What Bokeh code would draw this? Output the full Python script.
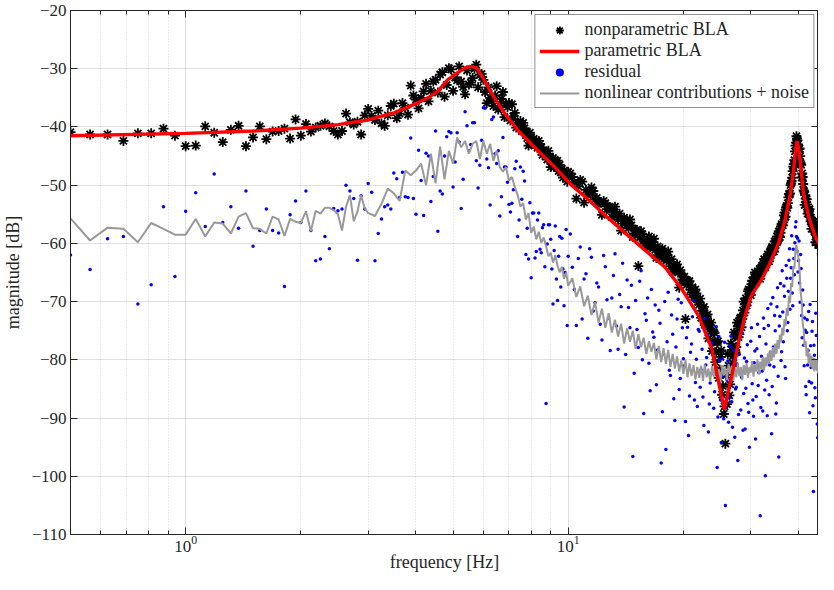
from bokeh.plotting import figure
from bokeh.models import (FixedTicker, LogAxis, LinearAxis, Legend, LegendItem,
                          CustomJSTickFormatter)
from bokeh.embed import file_html
from bokeh.resources import INLINE

# ---------------- data ----------------
# frequency lines [Hz] (main set, shared by all three measured series)
F_A = [0.5, 0.5625, 0.625, 0.6875, 0.75, 0.8125, 0.875, 0.9375, 1.0, 1.0625,
       1.125, 1.1875, 1.25, 1.3125, 1.375, 1.4375, 1.5, 1.5625, 1.625, 1.6875,
       1.75, 1.8125, 1.875, 1.9375, 2.0, 2.0625, 2.125, 2.1875, 2.25, 2.3125,
       2.375, 2.4375, 2.5, 2.5625, 2.625, 2.6875, 2.75, 2.8125, 2.875, 2.9375,
       3.0]
F_B = [3.125, 3.25, 3.375, 3.5, 3.625, 3.75, 3.875, 4.0, 4.125, 4.25,
       4.375, 4.5, 4.625, 4.75, 4.875, 5.0, 5.125, 5.25, 5.375, 5.5,
       5.625, 5.75, 5.875, 6.0, 6.125, 6.25, 6.375, 6.5, 6.625, 6.75,
       6.875, 7.0, 7.125, 7.25, 7.375, 7.5, 7.625, 7.75, 7.875, 8.0,
       8.125, 8.25, 8.375, 8.5, 8.625, 8.75, 8.875, 9.0, 9.125, 9.25,
       9.375, 9.5, 9.625, 9.75, 9.875, 10.0]
F_C = [10.25, 10.5, 10.75,
       11.0, 11.25, 11.5, 11.75, 12.0, 12.25, 12.5, 12.75,
       13.0, 13.25, 13.5, 13.75, 14.0, 14.25, 14.5, 14.75,
       15.0, 15.25, 15.5, 15.75, 16.0, 16.25, 16.5, 16.75,
       17.0, 17.25, 17.5, 17.75, 18.0, 18.25, 18.5, 18.75,
       19.0, 19.25, 19.5, 19.75, 20.0, 20.25, 20.5, 20.75,
       21.0, 21.25, 21.5, 21.75, 22.0, 22.25, 22.5, 22.75,
       23.0, 23.25, 23.5, 23.75, 24.0, 24.25, 24.5, 24.75,
       25.0, 25.25, 25.5, 25.75, 26.0, 26.25, 26.5, 26.75,
       27.0, 27.25, 27.5, 27.75, 28.0, 28.25, 28.5, 28.75,
       29.0, 29.25, 29.5, 29.75, 30.0, 30.25, 30.5, 30.75,
       31.0, 31.25, 31.5, 31.75, 32.0, 32.25, 32.5, 32.75,
       33.0, 33.25, 33.5, 33.75, 34.0, 34.25, 34.5, 34.75,
       35.0, 35.25, 35.5, 35.75, 36.0, 36.25, 36.5, 36.75,
       37.0, 37.25, 37.5, 37.75, 38.0, 38.25, 38.5, 38.75,
       39.0, 39.25, 39.5, 39.75, 40.0, 40.25, 40.5, 40.75,
       41.0, 41.25, 41.5, 41.75, 42.0, 42.25, 42.5, 42.75,
       43.0, 43.25, 43.5, 43.75, 44.0, 44.25, 44.5, 44.75,
       45.0, 45.25, 45.5, 45.75, 46.0, 46.25, 46.5, 46.75]
# in-between frequency lines (extra BLA stars and residual dots)
F_D = [3.0625, 3.1875, 3.3125, 3.4375, 3.5625, 3.6875, 3.8125, 3.9375,
       4.0625, 4.1875, 4.3125, 4.4375, 4.5625, 4.6875, 4.8125, 4.9375,
       5.0625, 5.1875, 5.3125, 5.4375, 5.5625, 5.6875, 5.8125, 5.9375,
       6.0625, 6.1875, 6.3125, 6.4375, 6.5625, 6.6875, 6.8125, 6.9375,
       7.0625, 7.1875, 7.3125, 7.4375, 7.5625, 7.6875, 7.8125, 7.9375,
       8.0625, 8.1875, 8.3125, 8.4375, 8.5625, 8.6875, 8.8125, 8.9375,
       9.0625, 9.1875, 9.3125, 9.4375, 9.5625, 9.6875, 9.8125, 9.9375,
       10.125, 10.375, 10.625, 10.875, 11.125, 11.375, 11.625, 11.875,
       12.125, 12.375, 12.625, 12.875, 13.125, 13.375, 13.625, 13.875,
       14.125, 14.375, 14.625, 14.875, 15.125, 15.375, 15.625, 15.875,
       16.125, 16.375, 16.625, 16.875, 17.125, 17.375, 17.625, 17.875,
       18.125, 18.375, 18.625, 18.875, 19.125, 19.375, 19.625, 19.875,
       20.125, 20.375, 20.625, 20.875, 21.125, 21.375, 21.625, 21.875,
       22.125, 22.375, 22.625, 22.875, 23.125, 23.375, 23.625, 23.875,
       24.125, 24.375, 24.625, 24.875, 25.125, 25.375, 25.625, 25.875,
       26.125, 26.375, 26.625, 26.875, 27.125, 27.375, 27.625, 27.875,
       28.125, 28.375, 28.625, 28.875, 29.125, 29.375, 29.625, 29.875,
       30.125, 30.375, 30.625, 30.875, 31.125, 31.375, 31.625, 31.875,
       32.125, 32.375, 32.625, 32.875, 33.125, 33.375, 33.625, 33.875,
       34.125, 34.375, 34.625, 34.875, 35.125, 35.375, 35.625, 35.875,
       36.125, 36.375, 36.625, 36.875, 37.125, 37.375, 37.625, 37.875,
       38.125, 38.375, 38.625, 38.875, 39.125, 39.375, 39.625, 39.875,
       40.125, 40.375, 40.625, 40.875, 41.125, 41.375, 41.625, 41.875,
       42.125, 42.375, 42.625, 42.875, 43.125, 43.375, 43.625, 43.875,
       44.125, 44.375, 44.625, 44.875, 45.125, 45.375, 45.625, 45.875,
       46.125, 46.375, 46.625]

# nonparametric BLA [dB]
BLA_A = [-40.9, -41.3, -41.3, -42.4, -41.1, -41.1, -40.3, -41.5, -43.3, -43.2,
         -39.9, -41.0, -42.6, -40.5, -39.8, -43.3, -41.8, -39.9, -42.1, -40.8,
         -40.7, -40.3, -42.0, -38.7, -41.5, -39.5, -40.8, -40.1, -39.8, -39.4,
         -39.9, -40.7, -41.3, -40.7, -37.7, -39.2, -39.6, -39.1, -41.3, -38.0,
         -36.9]
BLA_B = [-38.8, -39.4, -38.0, -36.0, -37.7, -36.7, -32.9, -35.3, -35.0, -32.6,
         -33.8, -31.9, -31.0, -34.8, -29.9, -33.8, -32.0, -32.2, -34.4, -32.7,
         -31.6, -29.3, -31.0, -31.9, -35.9, -35.0, -36.4, -33.0, -36.4, -34.0,
         -36.0, -35.9, -36.1, -37.6, -39.3, -39.0, -39.3, -41.0, -43.2, -41.8,
         -42.0, -42.4, -42.4, -43.5, -44.0, -44.6, -44.1, -46.9, -45.3, -45.8,
         -45.8, -46.5, -47.2, -47.5, -48.6, -47.7]
BLA_C = [-48.6, -52.3, -49.1, -53.0, -51.6, -50.4, -52.4, -53.2, -55.1, -53.1,
         -53.9, -55.5, -53.7, -55.9, -57.8, -55.6, -56.8, -55.9, -58.9, -57.8,
         -63.9, -57.9, -59.6, -60.6, -58.8, -60.5, -59.2, -62.5, -61.4, -61.2,
         -62.8, -61.6, -61.4, -63.9, -64.9, -64.3, -63.6, -67.6, -65.2, -66.4,
         -73.0, -66.4, -66.5, -68.8, -68.7, -67.9, -69.6,
         -70.5, -72.8, -71.2, -74.0, -72.5, -76.3, -74.1, -78.5, -75.2, -80.4,
         -77.0, -83.1, -79.5, -86.0, -89.3, -94.4, -87.6, -81.0, -84.2, -78.3,
         -80.6, -76.0, -77.8, -74.2, -75.6,
         -72.7, -73.0, -70.0, -70.4, -70.7, -68.2, -68.3, -68.9, -66.4, -66.5,
         -65.0, -66.7, -64.9, -65.4, -66.1, -64.1, -64.5, -62.7, -64.1, -62.8,
         -61.9, -63.1, -61.7, -60.8, -61.2, -61.4, -59.6, -59.7, -59.6, -58.0,
         -58.9, -57.1, -56.8, -56.4, -54.7, -55.4, -53.6, -53.1, -51.5, -51.4,
         -49.7, -48.7, -46.8, -45.7, -43.2,
         -41.6, -42.3, -44.3, -43.7, -46.2, -48.7, -48.6, -50.9, -53.4, -52.3,
         -52.4, -54.9, -54.6, -54.1, -56.2, -57.5, -56.3, -56.3, -58.0, -59.8,
         -57.9, -58.9, -60.3, -59.0, -58.7, -60.8, -61.9, -60.5, -61.3, -60.7]
BLA_D = [-38.1, -37.2, -39.8, -36.4, -38.5, -35.9, -37.9, -34.6,
         -36.8, -33.9, -35.6, -32.2, -34.1, -30.6, -32.8, -30.1,
         -31.5, -29.6, -33.1, -30.3, -32.4, -30.0, -33.2, -30.9,
         -34.0, -33.2, -35.5, -34.6, -37.0, -35.2, -38.3, -36.6,
         -38.9, -38.2, -40.1, -39.6, -40.7, -40.2, -41.9, -41.0,
         -42.9, -43.1, -43.6, -42.9, -44.8, -44.3, -45.6, -45.1,
         -46.2, -46.9, -46.4, -47.6, -47.8, -48.7, -48.3, -49.4,
         -48.0, -49.5, -50.2, -49.4, -50.8, -51.3, -51.0, -52.2,
         -53.0, -52.7, -54.1, -53.8, -54.7, -55.2, -54.9, -56.6,
         -56.1, -57.4, -56.9, -58.3, -57.7, -59.0, -58.4, -59.9,
         -59.3, -60.6, -59.8, -61.1, -60.5, -61.9, -60.9, -62.6,
         -62.0, -63.1, -62.7, -64.4, -63.9, -65.0, -64.6, -66.2,
         -65.7, -67.1, -66.6, -68.0, -67.5, -69.2, -68.6, -70.1,
         -69.5, -71.6, -70.9, -73.3, -72.2, -74.8, -73.6, -76.9,
         -75.4, -78.6, -76.8, -81.7, -78.4, -84.5, -88.0, -82.6,
         -79.0, -86.1, -77.2, -79.4, -75.3, -78.7, -73.6, -76.1,
         -72.9, -74.4, -71.5, -71.9, -69.4, -70.1, -67.9, -68.6,
         -67.0, -67.4, -65.8, -66.3, -65.2, -65.9, -64.4, -65.1,
         -63.8, -64.3, -63.0, -63.6, -62.3, -62.8, -61.5, -62.0,
         -60.6, -61.1, -59.7, -60.3, -58.8, -59.4, -57.9, -58.2,
         -56.7, -56.9, -55.2, -55.5, -53.8, -53.9, -52.1, -51.6,
         -50.0, -49.3, -47.6, -46.4, -44.2, -42.7, -42.0, -43.0,
         -43.8, -45.0, -46.5, -48.0, -49.8, -51.1, -51.7, -52.9,
         -53.3, -54.2, -54.4, -55.5, -55.6, -56.4, -56.6, -57.4,
         -57.7, -58.2, -58.5, -59.1, -59.2, -59.6, -59.9, -60.4,
         -60.5, -61.0, -61.1]

# residual [dB]
RES_A = [-62.0, -64.5, -59.2, -58.8, -70.4, -67.1, -53.7, -65.7, -54.5, -51.3,
         -57.1, -48.1, -56.4, -53.7, -57.4, -51.0, -60.5, -57.8, -54.1, -57.8,
         -58.2, -67.4, -55.1, -52.7, -56.4, -51.0, -57.8, -63.0, -62.7, -58.8,
         -60.9, -54.0, -54.4, -54.1, -50.0, -51.0, -52.3, -62.9, -51.8, -54.1,
         -49.7]
RES_B = [-63.0, -55.8, -53.4, -47.9, -52.1, -52.0, -41.9, -55.0, -49.2, -44.5,
         -52.8, -40.7, -51.0, -45.0, -40.8, -50.3, -41.0, -54.0, -37.4, -44.1,
         -39.3, -45.8, -46.6, -36.7, -45.5, -53.4, -38.3, -46.3, -55.3, -41.8,
         -46.9, -53.3, -53.1, -47.2, -58.8, -46.9, -47.6, -61.9, -62.7, -65.9,
         -54.8, -61.4, -54.8, -61.6, -56.8, -87.5, -56.8, -59.3, -70.4, -57.0,
         -69.8, -58.8, -59.1, -70.7, -57.6, -62.2]
RES_C = [-64.1, -74.1, -60.6,
         -66.1, -76.3, -62.4, -70.2, -67.5, -76.6, -64.0, -72.8,
         -69.4, -61.8, -78.2, -70.9, -88.1, -66.3, -74.5, -96.6,
         -69.8, -77.9, -64.7, -89.2, -73.2, -80.6, -67.9, -76.1,
         -84.3, -71.5, -97.7, -79.0, -95.4, -68.4, -82.7, -75.6,
         -90.4, -73.0, -85.1, -70.2, -79.8, -90.6, -74.4, -86.2,
         -77.3, -69.8, -83.9, -88.0, -75.1, -81.7, -86.4, -72.9,
         -79.6, -92.4, -84.0, -77.2, -88.3, -81.5, -98.5, -76.0,
         -86.9, -79.8, -90.1, -105.0, -83.4, -90.7, -77.6, -87.2,
         -81.0, -93.3, -84.7, -97.3, -79.1, -88.6, -75.4, -85.8,
         -91.9, -80.3, -87.5, -95.0, -76.8, -84.1, -89.7, -78.5,
         -86.3, -73.9, -82.2, -106.8, -79.4, -88.8, -74.6, -99.9,
         -83.5, -71.2, -86.0, -78.7, -92.7, -69.3, -81.2, -75.0,
         -87.4, -67.6, -96.7, -72.5, -80.1, -64.7, -76.9, -69.1,
         -83.2, -66.0, -73.6, -62.9, -71.3, -64.2, -68.5, -61.0,
         -65.4, -57.2, -58.8, -59.1, -63.0, -66.8, -61.9, -72.4,
         -68.0, -77.5, -72.8, -84.6, -75.3, -80.9, -71.7, -89.1,
         -77.6, -84.0, -73.4, -102.6, -79.2, -86.5, -75.8, -91.0,
         -81.7, -73.9, -87.3, -78.6, -83.8, -95.7, -76.2, -106.7]
RES_D = [-51.2, -58.3, -53.7, -54.1, -48.9, -47.8, -52.1, -52.3,
         -44.0, -55.2, -45.0, -48.5, -57.9, -51.5, -41.7, -41.0,
         -46.0, -42.6, -49.0, -39.8, -43.0, -39.3, -50.5, -42.3,
         -36.8, -47.0, -38.7, -44.6, -44.1, -52.0, -46.9, -49.5,
         -54.6, -50.8, -45.9, -56.0, -52.4, -49.3, -57.4, -53.0,
         -54.8, -62.5, -56.0, -61.0, -57.3, -64.0, -60.1, -56.8,
         -64.4, -61.2, -66.1, -62.2, -67.5, -64.4, -65.0, -74.1,
         -58.4, -67.9, -62.6, -73.0, -65.2, -60.9, -71.6, -66.8,
         -73.9, -62.1, -69.7, -78.4, -65.5, -74.2, -68.8, -63.4,
         -79.1, -71.0, -67.2, -82.3, -74.8, -66.5, -80.0, -72.1,
         -69.4, -85.3, -75.2, -70.6, -78.3, -73.7, -88.9, -70.0,
         -76.9, -81.8, -72.3, -86.7, -77.8, -69.6, -83.2, -74.5,
         -81.0, -76.2, -93.0, -78.7, -72.6, -86.9, -79.9, -74.8,
         -84.7, -78.2, -91.3, -80.9, -75.7, -87.6, -82.4, -78.9,
         -85.5, -74.3, -89.8, -80.2, -94.2, -82.8, -77.0, -88.2,
         -80.2, -86.5, -75.9, -91.6, -78.3, -85.0, -80.8, -89.4,
         -76.1, -83.0, -92.1, -79.7, -84.9, -77.4, -89.0, -81.6,
         -74.5, -86.9, -80.5, -93.6, -78.1, -84.4, -76.0, -88.2,
         -81.9, -72.8, -85.2, -77.3, -89.6, -74.1, -80.9, -70.4,
         -84.6, -77.8, -72.4, -89.3, -70.9, -82.8, -74.2, -66.9,
         -78.6, -71.8, -67.3, -81.2, -63.8, -75.0, -68.2, -60.9,
         -66.0, -58.7, -70.7, -62.6, -59.9, -56.3, -61.3, -64.9,
         -59.6, -70.1, -64.3, -76.2, -70.6, -81.0, -74.9, -86.0,
         -73.1, -78.4, -83.7, -70.5, -81.3, -75.1, -87.9, -77.5,
         -84.8, -72.0, -80.7, -93.4, -76.5, -85.6, -79.9, -71.7,
         -88.3, -77.9, -84.9]

# nonlinear contributions + noise [dB]
NL_A = [-55.7, -59.5, -57.3, -57.5, -59.8, -56.5, -57.5, -58.5, -58.5, -55.8,
        -58.8, -56.4, -56.6, -58.3, -55.4, -54.8, -57.4, -57.5, -58.3, -55.4,
        -55.9, -58.7, -55.8, -56.3, -56.5, -54.5, -57.9, -54.4, -54.9, -53.9,
        -53.9, -54.3, -55.0, -57.8, -53.7, -51.7, -56.2, -54.5, -51.7, -54.0,
        -54.8]
NL_B = [-55.3, -53.2, -50.6, -51.4, -52.7, -47.5, -48.3, -47.5, -46.3, -50.0,
        -44.6, -49.7, -43.4, -49.0, -44.1, -46.3, -41.8, -43.5, -42.4, -44.6,
        -42.9, -42.4, -45.5, -42.4, -44.6, -42.9, -45.8, -44.1, -46.9, -47.7,
        -46.9, -49.2, -48.6, -50.3, -51.7, -53.7, -53.1, -55.9, -54.8, -58.2,
        -57.1, -59.3, -58.0, -59.9, -59.0, -60.5, -62.2, -61.6, -63.3, -62.0,
        -63.8, -65.0, -64.0, -66.1, -65.0, -67.3]
NL_C = [-66.0, -69.2, -67.4,
        -70.8, -69.0, -72.3, -70.1, -73.6, -71.2, -74.5, -72.0,
        -75.3, -73.1, -76.0, -73.8, -77.2, -74.6, -76.9, -75.0,
        -78.1, -75.6, -77.8, -76.2, -79.0, -76.8, -78.6, -77.1,
        -79.9, -77.6, -80.4, -78.0, -80.7, -78.3, -81.2, -79.0,
        -81.5, -79.4, -82.0, -80.1, -82.4, -80.0, -83.0, -80.6,
        -82.8, -80.9, -83.4, -81.2, -83.1, -81.0, -83.6, -80.8,
        -83.0, -81.5, -83.8, -81.1, -82.9, -80.4, -83.3, -81.6,
        -84.0, -80.9, -82.7, -81.3, -83.5, -80.7, -82.4, -81.0,
        -83.7, -81.4, -83.0, -80.6, -82.8, -81.2, -83.5, -80.9,
        -82.6, -80.5, -83.1, -81.3, -82.2, -80.2, -82.9, -80.8,
        -82.0, -79.9, -82.4, -80.3, -81.6, -79.5, -81.8, -79.6,
        -81.1, -78.9, -80.7, -78.4, -80.2, -77.8, -79.6, -77.2,
        -79.0, -76.6, -78.1, -75.7, -77.0, -74.5, -75.8, -73.0,
        -74.2, -71.1, -72.4, -69.0, -70.2, -66.8, -67.5, -63.9,
        -64.4, -61.2, -60.3, -61.8, -62.5, -64.6, -68.3, -70.0,
        -73.6, -74.9, -77.8, -76.8, -79.4, -78.0, -80.6, -78.9,
        -81.2, -79.3, -81.6, -79.6, -82.0, -79.8, -81.7, -80.1,
        -82.3, -80.0, -82.5, -80.4, -81.9, -80.2, -82.6, -80.5]

# parametric BLA (smooth model curve) [Hz], [dB]
F_PAR = [0.5, 1.0, 1.5, 2.0, 2.5, 3.0, 3.5, 4.0, 4.3, 4.56,
         4.84, 5.16, 5.36, 5.53, 5.75, 5.94, 6.1, 6.29, 6.5, 6.84,
         7.41, 8.33, 9.22, 10.2, 11.3, 12.5, 14.6, 17.9, 19.8, 21.9,
         23.7, 24.9, 25.3, 25.6, 26.0, 26.8, 27.9, 29.0, 30.1, 32.1,
         33.4, 35.5, 36.9, 38.1, 38.8, 39.2, 39.6, 40.0, 40.4, 41.2,
         42.5, 44.2, 47.0]
DB_PAR = [-41.5, -41.1, -40.7, -40.2, -39.6, -38.8, -37.6, -36.0, -35.0, -33.9,
          -31.9, -30.6, -29.9, -29.6, -29.8, -31.2, -32.5, -34.1, -35.6, -37.8,
          -40.7, -44.1, -46.9, -50.0, -52.5, -55.2, -59.1, -64.1, -67.8, -72.4,
          -78.0, -84.8, -87.0, -88.5, -86.5, -82.5, -76.9, -72.4, -69.0, -66.1,
          -63.9, -59.9, -55.9, -51.4, -47.5, -44.5, -42.4, -43.5, -45.8, -51.4,
          -55.4, -58.8, -62.2]

X_MAJOR = [1, 10]
X_MINOR = [0.5, 0.6, 0.7, 0.8, 0.9, 2, 3, 4, 5, 6, 7, 8, 9, 20, 30, 40]
Y_TICKS = [-110, -100, -90, -80, -70, -60, -50, -40, -30, -20]

F = F_A + F_B + F_C
BLA = BLA_A + BLA_B + BLA_C
RES = RES_A + RES_B + RES_C
NL = NL_A + NL_B + NL_C
assert len(F) == len(BLA) == len(RES) == len(NL)
assert len(F_D) == len(BLA_D) == len(RES_D)
assert len(F_PAR) == len(DB_PAR)
F_ALL = F + F_D
BLA_ALL = BLA + BLA_D
RES_ALL = RES + RES_D

# ---------------- figure ----------------
FONT = "Liberation Serif"
AX = "#262626"

p = figure(width=818, height=574, x_axis_type="log",
           x_range=(0.5, 45.1), y_range=(-110, -20),
           output_backend="svg", toolbar_location=None,
           min_border_left=64, min_border_right=0,
           min_border_top=10, min_border_bottom=40)
p.outline_line_color = AX
p.outline_line_width = 1

xt = FixedTicker(ticks=X_MAJOR, minor_ticks=X_MINOR)
yt = FixedTicker(ticks=Y_TICKS, minor_ticks=[])


def style(ax):
    ax.axis_line_color = AX
    ax.major_tick_line_color = AX
    ax.minor_tick_line_color = AX
    ax.major_tick_in = 7
    ax.major_tick_out = 0
    ax.minor_tick_in = 4
    ax.minor_tick_out = 0
    ax.major_label_text_font = FONT
    ax.major_label_text_font_size = "17px"
    ax.major_label_text_color = AX
    ax.axis_label_text_font = FONT
    ax.axis_label_text_font_size = "18px"
    ax.axis_label_text_font_style = "normal"
    ax.axis_label_text_color = AX


xa = p.xaxis[0]
xa.ticker = xt
style(xa)
xa.major_label_standoff = 1
xa.axis_label = "frequency [Hz]"
xa.axis_label_standoff = -3
xa.axis_label_text_line_height = 1.0

ya = p.yaxis[0]
ya.ticker = yt
style(ya)
ya.minor_tick_line_color = None
ya.major_label_standoff = 4
ya.axis_label = "magnitude [dB]"
ya.axis_label_standoff = 5

blank = CustomJSTickFormatter(code="return ''")
top = LogAxis(ticker=xt, formatter=blank, major_label_standoff=0)
style(top)
top.major_label_text_font_size = "0px"
p.add_layout(top, "above")
right = LinearAxis(ticker=yt, formatter=blank, major_label_standoff=0)
style(right)
right.minor_tick_line_color = None
right.major_label_text_font_size = "0px"
p.add_layout(right, "right")

p.xgrid.ticker = xt
p.ygrid.ticker = yt
for g in (p.xgrid[0], p.ygrid[0]):
    g.grid_line_color = AX
    g.grid_line_alpha = 0.15
p.xgrid.minor_grid_line_color = AX
p.xgrid.minor_grid_line_alpha = 0.18
p.xgrid.minor_grid_line_dash = "1 2"

stars = p.scatter(F_ALL, BLA_ALL, marker="asterisk", size=10,
                  line_color="black", line_width=1.8)
dots = p.scatter(F_ALL, RES_ALL, marker="circle", size=3.5,
                 fill_color="#0000ff", line_color=None)
gray = p.line(F, NL, line_color="#999999", line_width=2)
red = p.line(F_PAR, DB_PAR, line_color="#ff0000", line_width=3.4)

legend = Legend(items=[
    LegendItem(label="nonparametric BLA", renderers=[stars]),
    LegendItem(label="parametric BLA", renderers=[red]),
    LegendItem(label="residual", renderers=[dots]),
    LegendItem(label="nonlinear contributions + noise", renderers=[gray]),
], location="top_right")
legend.border_line_color = AX
legend.border_line_width = 1
legend.background_fill_alpha = 1
legend.label_text_font = FONT
legend.label_text_font_size = "18px"
legend.label_text_color = AX
legend.glyph_width = 40
legend.glyph_height = 20
legend.label_height = 20
legend.spacing = 0
legend.padding = 4
legend.margin = 4
legend.label_standoff = 5
p.add_layout(legend)

open("out.html", "w").write(file_html(p, INLINE))
